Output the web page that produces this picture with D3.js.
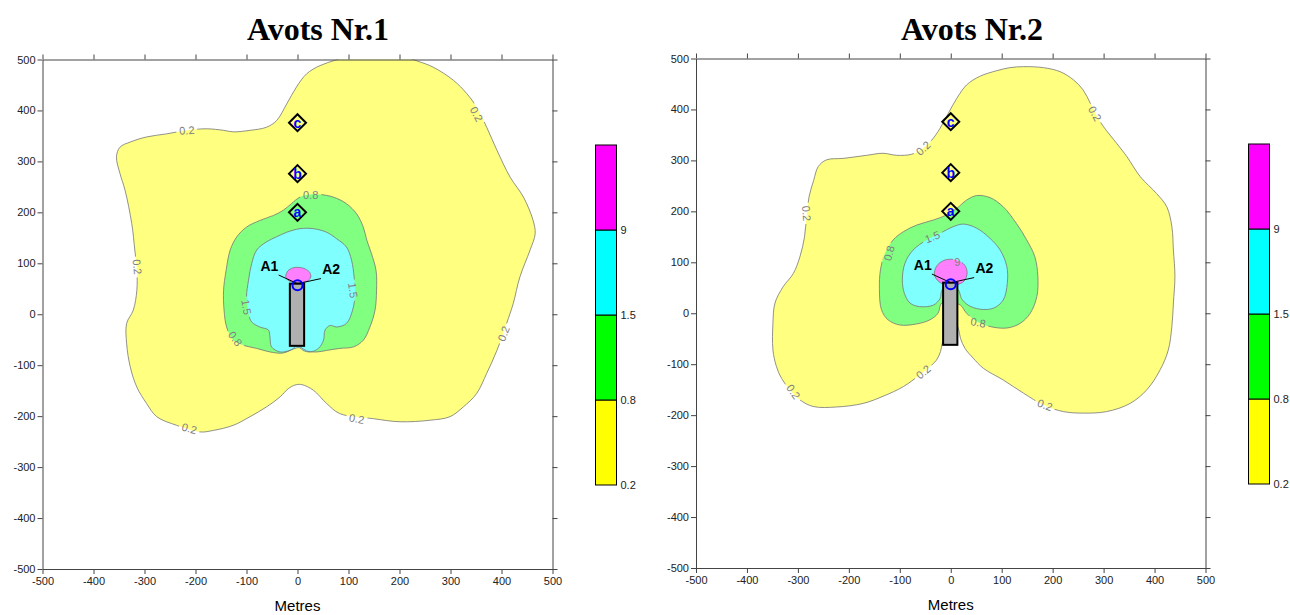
<!DOCTYPE html>
<html>
<head>
<meta charset="utf-8">
<script src="https://cdn.jsdelivr.net/npm/d3@7"></script>
<style>
  body { margin: 0; background: #fff; }
  text { font-family: "Liberation Sans", Arial, sans-serif; }
</style>
</head>
<body>
<svg id="chart" width="1290" height="615"></svg>
<script>
// contour levels and colours
const levels = [0.2, 0.8, 1.5, 9];
const levelColors = ["#ffff00", "#00ff00", "#00ffff", "#ff00ff"];
const axisTicks = [-500, -400, -300, -200, -100, 0, 100, 200, 300, 400, 500];

// receptors and source (metres)
const receptors = [
  { id: "a", x: 0, y: 200 },
  { id: "b", x: 0, y: 276 },
  { id: "c", x: 0, y: 376 }
];
const stack = { x0: -15, x1: 13, y0: -62, y1: 60 };
const sourcePoint = [0, 57];
const arms = [
  { name: "A1", from: [0, 60], to: [-37, 77], label: [-55, 95] },
  { name: "A2", from: [0, 60], to: [46, 70], label: [66, 89] }
];

// ---- Avots Nr.1 contours (x, y in metres)
const nr1_02 = [[44,488],[75,499],[100,508],[150,510],[200,508],[235,497],[266,485],[306,459],[332,433],[351,407],[371,367],[391,322],[417,269],[443,230],[462,184],[466,158],[456,126],[436,73],[423,21],[410,-18],[391,-71],[371,-116],[351,-156],[325,-182],[299,-201],[260,-208],[201,-211],[149,-205],[83,-195],[57,-175],[31,-149],[8,-138],[-5,-139],[-18,-146],[-34,-162],[-61,-182],[-93,-201],[-126,-218],[-165,-228],[-191,-231],[-237,-218],[-276,-201],[-296,-175],[-315,-143],[-328,-103],[-335,-58],[-335,-18],[-322,8],[-315,47],[-315,86],[-319,126],[-325,178],[-338,243],[-348,276],[-355,309],[-348,328],[-328,338],[-296,348],[-257,354],[-217,361],[-178,364],[-145,361],[-126,358],[-93,361],[-61,367],[-41,380],[-21,413],[-2,446],[18,472]];
const nr1_08 = [[44,235],[70,230],[96,217],[116,197],[129,171],[136,145],[145,119],[154,86],[155,47],[152,8],[142,-25],[129,-51],[110,-64],[83,-67],[57,-71],[38,-74],[18,-72],[5,-64],[-2,-61],[-8,-67],[-28,-76],[-54,-74],[-80,-67],[-106,-61],[-126,-51],[-139,-25],[-144,8],[-145,47],[-140,86],[-132,126],[-119,152],[-100,171],[-74,184],[-47,194],[-28,204],[-12,217],[5,230],[25,235]];
const nr1_15 = [[5,168],[31,168],[57,161],[77,148],[96,132],[106,106],[111,73],[113,41],[108,8],[96,-18],[77,-25],[64,-22],[54,-31],[51,-51],[41,-67],[25,-74],[11,-71],[5,-66],[-2,-66],[-15,-71],[-34,-74],[-51,-64],[-54,-45],[-57,-31],[-74,-25],[-90,-15],[-96,1],[-100,34],[-96,67],[-90,99],[-80,126],[-61,142],[-41,152],[-21,161]];
const nr1_9 = [[-23,74],[-19,85],[-9,91],[3,92],[15,89],[24,82],[26,73],[19,65],[5,62],[-10,63],[-19,67]];

// ---- Avots Nr.2 contours
const nr2_02 = [[143,484],[182,482],[215,474],[241,458],[260,438],[274,412],[287,386],[300,366],[326,333],[346,307],[372,268],[404,235],[424,209],[434,170],[437,124],[440,72],[437,20],[434,-26],[427,-72],[411,-111],[385,-150],[352,-177],[306,-193],[260,-196],[221,-193],[182,-180],[143,-157],[103,-131],[64,-108],[44,-88],[28,-69],[19,-49],[15,-30],[5,-12],[-5,-35],[-14,-52],[-17,-60],[-20,-75],[-28,-92],[-41,-105],[-61,-121],[-93,-144],[-133,-163],[-172,-177],[-224,-184],[-270,-183],[-296,-170],[-316,-150],[-332,-128],[-342,-105],[-349,-72],[-349,-20],[-345,20],[-329,52],[-309,78],[-296,111],[-287,150],[-283,190],[-278,229],[-269,261],[-260,288],[-244,301],[-211,304],[-165,310],[-133,314],[-106,310],[-77,312],[-57,322],[-38,339],[-21,363],[-5,392],[12,422],[31,448],[57,465],[90,476],[116,482]];
const nr2_08 = [[51,231],[77,227],[103,209],[129,176],[149,144],[165,111],[171,72],[169,33],[156,0],[136,-20],[110,-29],[77,-26],[51,-16],[31,0],[19,16],[0,22],[-18,20],[-25,0],[-41,-13],[-67,-21],[-100,-23],[-123,-13],[-136,7],[-140,46],[-138,85],[-129,118],[-113,144],[-93,160],[-67,173],[-34,183],[-8,193],[12,206],[31,222]];
const nr2_15 = [[25,175],[51,167],[77,147],[97,124],[110,92],[111,59],[103,26],[84,10],[57,8],[34,16],[21,29],[15,46],[-2,55],[-17,46],[-21,29],[-34,16],[-61,13],[-80,20],[-91,39],[-95,65],[-90,98],[-74,124],[-47,144],[-21,157],[5,170]];
const nr2_9 = [[-32,75],[-28,92],[-15,103],[2,106],[18,102],[29,92],[32,77],[26,63],[12,56],[-6,55],[-22,61]];

// contour labels: [x, y, angle, text]
const nr1_labels = [
  [-217, 361, -4, "0.2"], [351, 393, 62, "0.2"], [-314, 93, 84, "0.2"],
  [404, -38, -68, "0.2"], [116, -205, 10, "0.2"], [-212, -224, 15, "0.2"],
  [26, 234, 0, "0.8"], [109, 47, 82, "1.5"], [-100, 14, 80, "1.5"], [-122, -48, 55, "0.8"]
];
const nr2_labels = [
  [283, 392, 62, "0.2"], [-54, 324, -42, "0.2"], [-283, 196, 86, "0.2"],
  [-36, 150, -22, "1.5"], [-121, 118, -75, "0.8"], [13, 101, 0, "9"],
  [54, -18, 10, "0.8"], [-54, -115, -40, "0.2"], [-309, -154, 55, "0.2"], [185, -180, 20, "0.2"]
];

const svg = d3.select("#chart");
const defs = svg.append("defs");
const paleColor = c => d3.interpolateRgb(c, "#ffffff")(0.5);

function drawPanel(p) {
  const x = d3.scaleLinear().domain([-500, 500]).range([p.x0, p.x1]);
  const y = d3.scaleLinear().domain([-500, 500]).range([p.y1, p.y0]);
  const g = svg.append("g");

  defs.append("clipPath").attr("id", "clip" + p.id)
    .append("rect").attr("x", p.x0).attr("y", p.y0)
    .attr("width", p.x1 - p.x0).attr("height", p.y1 - p.y0);

  const line = d3.line()
    .x(d => x(d[0])).y(d => y(d[1]))
    .curve(d3.curveCatmullRomClosed.alpha(0.5));

  const cg = g.append("g").attr("clip-path", `url(#clip${p.id})`);
  p.contours.forEach((c, i) => {
    cg.append("path").attr("d", line(c)).attr("fill", paleColor(levelColors[i]));
  });

  // gaps in contour lines under the labels
  const mask = defs.append("mask").attr("id", "mask" + p.id)
    .attr("maskUnits", "userSpaceOnUse")
    .attr("x", 0).attr("y", 0).attr("width", 1290).attr("height", 615);
  mask.append("rect").attr("width", 1290).attr("height", 615).attr("fill", "white");
  p.labels.forEach(l => {
    const w = l[3].length * 6 + 3;
    mask.append("rect").attr("x", -w / 2).attr("y", -5).attr("width", w).attr("height", 10)
      .attr("fill", "black")
      .attr("transform", `translate(${x(l[0])},${y(l[1])}) rotate(${l[2]})`);
  });
  const lg = cg.append("g").attr("mask", `url(#mask${p.id})`);
  p.contours.forEach(c => {
    lg.append("path").attr("d", line(c))
      .attr("fill", "none").attr("stroke", "#767676").attr("stroke-width", 0.8);
  });

  cg.selectAll("text.clab").data(p.labels).enter().append("text")
    .attr("class", "clab")
    .attr("transform", d => `translate(${x(d[0])},${y(d[1])}) rotate(${d[2]})`)
    .attr("text-anchor", "middle").attr("dominant-baseline", "central")
    .attr("font-size", 11).attr("fill", "#808080")
    .text(d => d[3]);

  // stack, source and arms
  g.append("rect")
    .attr("x", x(stack.x0)).attr("y", y(stack.y1))
    .attr("width", x(stack.x1) - x(stack.x0)).attr("height", y(stack.y0) - y(stack.y1))
    .attr("fill", "#b0b0b0").attr("stroke", "#000").attr("stroke-width", 2);

  arms.forEach(a => {
    g.append("line")
      .attr("x1", x(a.from[0])).attr("y1", y(a.from[1]))
      .attr("x2", x(a.to[0])).attr("y2", y(a.to[1]))
      .attr("stroke", "#000").attr("stroke-width", 1);
    g.append("text").attr("x", x(a.label[0])).attr("y", y(a.label[1]))
      .attr("text-anchor", "middle").attr("dominant-baseline", "central")
      .attr("font-size", 14).attr("font-weight", "bold").text(a.name);
  });

  g.append("circle").attr("cx", x(sourcePoint[0])).attr("cy", y(sourcePoint[1]))
    .attr("r", 5).attr("fill", "none").attr("stroke", "#0000ff").attr("stroke-width", 2);

  const rg = g.selectAll("g.rec").data(receptors).enter().append("g")
    .attr("transform", d => `translate(${x(d.x)},${y(d.y)})`);
  rg.append("path").attr("d", "M0,-8.5L8.5,0L0,8.5L-8.5,0Z")
    .attr("fill", "none").attr("stroke", "#000").attr("stroke-width", 2);
  rg.append("text").attr("text-anchor", "middle").attr("dominant-baseline", "central")
    .attr("y", 0).attr("font-size", 14).attr("font-weight", "bold").attr("fill", "#0000ff")
    .text(d => d.id);

  // axes
  const fmt = d => String(d);
  const styleAxis = sel => {
    sel.select(".domain").attr("stroke", "#444");
    sel.selectAll(".tick line").attr("stroke", "#444");
    sel.selectAll(".tick text").attr("font-size", 11).attr("fill", "#222")
      .style("font-family", "'Liberation Sans', Arial, sans-serif");
  };
  g.append("g").attr("transform", `translate(${p.x0},0)`)
    .call(d3.axisLeft(y).tickValues(axisTicks).tickSize(5).tickSizeOuter(0).tickPadding(2).tickFormat(fmt))
    .call(styleAxis);
  g.append("g").attr("transform", `translate(${p.x1},0)`)
    .call(d3.axisRight(y).tickValues(axisTicks).tickSize(5).tickSizeOuter(0).tickFormat(""))
    .call(styleAxis);
  g.append("g").attr("transform", `translate(0,${p.y1})`)
    .call(d3.axisBottom(x).tickValues(axisTicks).tickSize(5).tickSizeOuter(0).tickPadding(3).tickFormat(fmt))
    .call(styleAxis);
  g.append("g").attr("transform", `translate(0,${p.y0})`)
    .call(d3.axisTop(x).tickValues(axisTicks).tickSize(5).tickSizeOuter(0).tickFormat(""))
    .call(styleAxis);

  g.append("text").attr("x", x(0)).attr("y", p.y1 + 42)
    .attr("text-anchor", "middle").attr("font-size", 15).text("Metres");

  g.append("text").attr("x", p.titleX).attr("y", 40)
    .attr("text-anchor", "middle")
    .style("font-family", "'Liberation Serif', 'Times New Roman', serif")
    .attr("font-size", 32).attr("font-weight", "bold").text(p.title);

  // colour bar
  const cs = d3.scaleLinear().domain([0, levels.length]).range([p.cbBottom, p.cbTop]);
  const cb = g.append("g");
  levels.forEach((lv, i) => {
    cb.append("rect").attr("x", p.cbX).attr("y", cs(i + 1))
      .attr("width", 21).attr("height", cs(i) - cs(i + 1))
      .attr("fill", levelColors[i]).attr("stroke", "#000").attr("stroke-width", 1);
    cb.append("text").attr("x", p.cbX + 25).attr("y", cs(i) + 4)
      .attr("font-size", 11).attr("fill", "#222").text(lv);
  });
}

drawPanel({
  id: 1, x0: 42.5, x1: 552.5, y0: 59.5, y1: 569,
  title: "Avots Nr.1", titleX: 318,
  contours: [nr1_02, nr1_08, nr1_15, nr1_9], labels: nr1_labels,
  cbX: 595.5, cbTop: 145, cbBottom: 485
});
drawPanel({
  id: 2, x0: 696, x1: 1205.5, y0: 58.5, y1: 568,
  title: "Avots Nr.2", titleX: 972,
  contours: [nr2_02, nr2_08, nr2_15, nr2_9], labels: nr2_labels,
  cbX: 1248.5, cbTop: 144, cbBottom: 484
});
</script>
</body>
</html>
